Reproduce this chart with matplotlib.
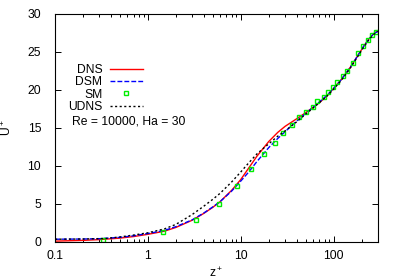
import matplotlib
matplotlib.use("Agg")
import matplotlib.pyplot as plt
from matplotlib.ticker import LogLocator, NullFormatter

plt.rcParams['font.family'] = ['Liberation Sans', 'DejaVu Sans']
plt.rcParams['mathtext.default'] = 'regular'
plt.rcParams['font.size'] = 8.7

# DNS profile
z_dns = [0.1, 0.2, 0.3, 0.5, 0.7, 1, 1.5, 2, 3, 4, 5, 6, 8, 10, 12, 15, 20, 25, 30,
         40, 50, 60, 70, 85, 100, 120, 150, 180, 210, 240, 270, 300]
u_dns = [0.1, 0.2, 0.3, 0.5, 0.7, 1.0, 1.4, 1.9, 2.85, 3.75, 4.55, 5.3, 6.8, 8.2, 9.6, 11.3, 13.2, 14.4, 15.2,
         16.2, 17.0, 17.7, 18.3, 19.2, 20.2, 21.3, 22.9, 24.4, 25.7, 26.7, 27.4, 27.8]

# DSM profile
z_dsm = [0.1, 0.2, 0.3, 0.5, 0.7, 1, 1.5, 2, 3, 4, 5, 6, 8, 10, 12, 15, 20, 25, 30,
         40, 50, 60, 70, 85, 100, 120, 150, 180, 210, 240, 270, 300]
u_dsm = [0.35, 0.38, 0.42, 0.6, 0.8, 1.1, 1.5, 2.0, 2.9, 3.8, 4.6, 5.3, 6.7, 8.0, 9.1, 10.6, 12.4, 13.6, 14.5,
         15.9, 16.9, 17.7, 18.4, 19.3, 20.2, 21.3, 22.9, 24.4, 25.7, 26.7, 27.4, 27.7]

# SM points
z_sm = [0.33, 1.45, 3.3, 5.8, 9.1, 12.8, 17.7, 23.2, 28.3, 35.3, 42, 51, 59.5, 67, 78, 88, 98,
        110, 125, 140, 160, 185, 210, 235, 260, 285]
u_sm = [0.3, 1.3, 2.9, 5.0, 7.4, 9.6, 11.6, 13.0, 14.3, 15.4, 16.4, 17.1, 17.8, 18.6, 19.1, 19.7, 20.4,
        21.1, 21.8, 22.5, 23.6, 24.8, 25.8, 26.6, 27.2, 27.6]

# UDNS profile
z_udns = [0.1, 0.2, 0.35, 0.5, 0.7, 1, 1.5, 2, 3, 4, 5, 6, 8, 10, 12, 15, 20, 25, 30,
          40, 50, 60, 70, 85, 100, 120, 150, 180, 210, 240, 270, 300]
u_udns = [0.35, 0.38, 0.45, 0.65, 0.9, 1.2, 1.7, 2.3, 3.6, 4.7, 5.6, 6.4, 7.9, 9.2, 10.3, 11.6, 12.9, 13.9, 14.6,
          15.8, 16.8, 17.6, 18.3, 19.2, 20.1, 21.2, 22.8, 24.3, 25.6, 26.6, 27.3, 27.7]

fig = plt.figure(figsize=(3.99, 2.79), dpi=100)
ax = fig.add_axes([0.138, 0.133, 0.809, 0.817])

ax.plot(z_dns, u_dns, color='#ff0000', lw=1.0, label='DNS')
ax.plot(z_dsm, u_dsm, color='#0000ff', lw=1.0, ls=(0, (3.5, 1.5)), label='DSM')
ax.plot(z_sm, u_sm, ls='none', marker='s', ms=3.4, mfc='none', mec='#00ee00', mew=1.0, label='SM')
ax.plot(z_udns, u_udns, color='black', lw=1.0, ls=(0, (1.5, 1.8)), label='UDNS')

ax.set_xscale('log')
ax.set_xlim(0.1, 300)
ax.set_ylim(0, 30)
ax.set_xticks([0.1, 1, 10, 100])
ax.set_xticklabels(['0.1', '1', '10', '100'])
ax.xaxis.set_minor_locator(LogLocator(base=10, subs=range(2, 10), numticks=20))
ax.xaxis.set_minor_formatter(NullFormatter())
ax.set_yticks(range(0, 31, 5))

ax.tick_params(which='both', direction='in', top=True, right=True, width=0.7)
ax.tick_params(which='major', length=4)
ax.tick_params(which='minor', length=2.2)
ax.tick_params(axis='y', pad=10)
ax.tick_params(axis='x', pad=6)
for s in ax.spines.values():
    s.set_linewidth(0.8)

ax.set_xlabel(r'z$^+$', labelpad=3)
ax.set_ylabel(r'U$^+$')
ax.yaxis.set_label_coords(-0.127, 0.504)

ax.legend(loc='upper right', bbox_to_anchor=(0.272, 0.78), frameon=False, markerfirst=False,
          handlelength=2.75, handletextpad=0.6, labelspacing=0.02, borderpad=0, borderaxespad=0)
ax.text(0.053, 0.53, 'Re = 10000, Ha = 30', transform=ax.transAxes, ha='left', va='center')

fig.savefig('out.png', dpi=100)
